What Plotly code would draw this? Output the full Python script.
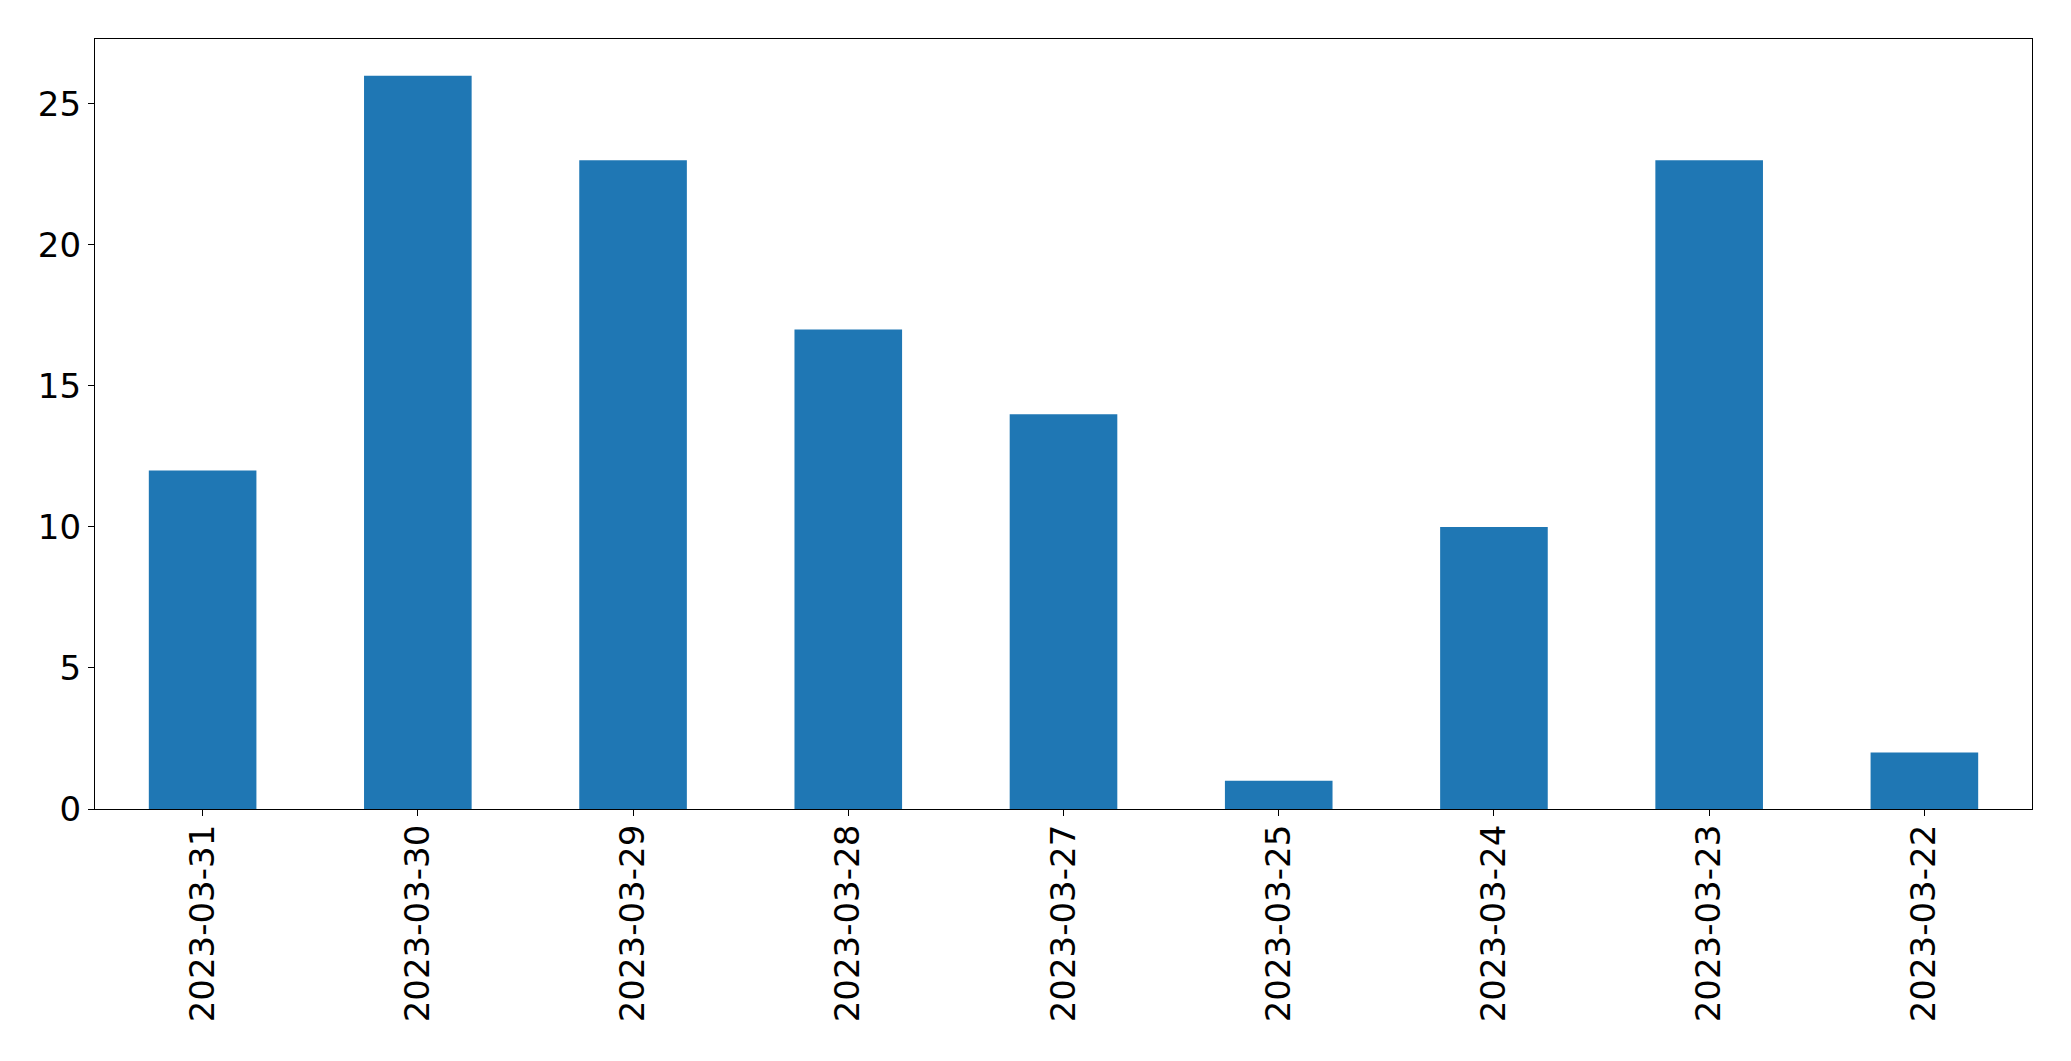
import plotly.graph_objects as go

dates = ["2023-03-31", "2023-03-30", "2023-03-29", "2023-03-28", "2023-03-27",
         "2023-03-25", "2023-03-24", "2023-03-23", "2023-03-22"]
counts = [12, 26, 23, 17, 14, 1, 10, 23, 2]
y_ticks = [0, 5, 10, 15, 20, 25]

fig = go.Figure(go.Bar(x=list(range(len(dates))), y=counts, width=0.5,
                       marker=dict(color="#1f77b4", line=dict(width=0))))

font = dict(family="DejaVu Sans", size=34, color="black")
fig.update_layout(
    width=2063, height=1053,
    margin=dict(l=87, r=39, t=31, b=252, pad=0),
    paper_bgcolor="white", plot_bgcolor="white",
    showlegend=False,
    font=font,
)
fig.update_xaxes(
    range=[-0.5, len(dates) - 0.5],
    tickmode="array", tickvals=list(range(len(dates))), ticktext=dates,
    tickangle=-90, ticks="outside", ticklen=6, tickwidth=1.3, tickcolor="black",
    ticklabelstandoff=-5,
    showline=True, linecolor="black", linewidth=1.3, mirror=True,
    showgrid=False, zeroline=False, tickfont=font,
)
fig.update_yaxes(
    range=[0, 27.3],
    tickmode="array", tickvals=y_ticks, ticktext=[str(v) for v in y_ticks],
    ticks="outside", ticklen=6, tickwidth=1.3, tickcolor="black",
    showline=True, linecolor="black", linewidth=1.3, mirror=True,
    showgrid=False, zeroline=False, tickfont=font,
)
fig.write_html("out.html")
